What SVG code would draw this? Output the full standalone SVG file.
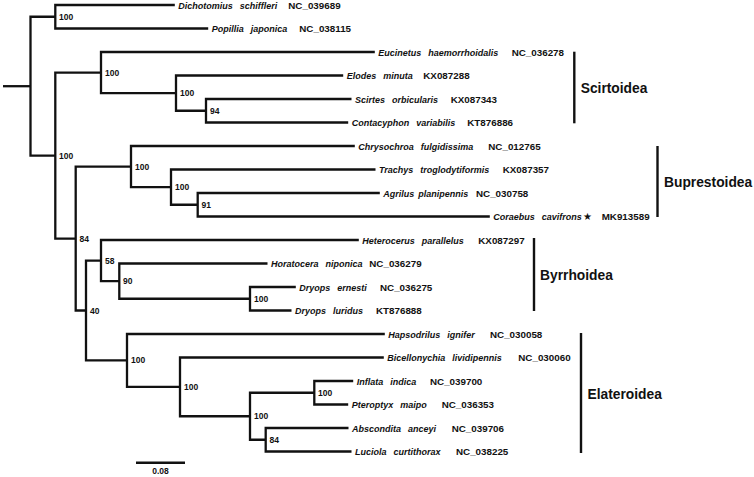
<svg xmlns="http://www.w3.org/2000/svg" width="754" height="477" viewBox="0 0 754 477">
<style>
.e{fill:none;stroke:#111;stroke-width:2.3;stroke-linejoin:miter}
.bar{stroke:#111;stroke-width:2.4}
.lf{font-family:"Liberation Sans",Arial,sans-serif;font-size:9.8px;font-weight:bold;fill:#111}
.sp{font-style:italic;font-size:9px}
.star{font-family:"DejaVu Sans",sans-serif;font-size:10px}
.bs{font-family:"Liberation Sans",Arial,sans-serif;font-size:8.5px;font-weight:bold;fill:#111}
.cl{font-family:"Liberation Sans",Arial,sans-serif;font-size:13.8px;font-weight:bold;fill:#111}
</style>
<rect width="754" height="477" fill="#fff"/>
<g id="connectors">
<path class="e" d="M3 86.2H30.5"/>
<path class="e" d="M30.5 86.2V16.75H55.3M30.5 86.2V155.6H55.3"/>
<path class="e" d="M55.3 16.75V5H174.8M55.3 16.75V28.5H208.2"/>
<path class="e" d="M55.3 155.6V72.6H101M55.3 155.6V238.6H75.7"/>
<path class="e" d="M101 72.6V52H374.8M101 72.6V93.1H176"/>
<path class="e" d="M176 93.1V75.5H343.2M176 93.1V110.75H206"/>
<path class="e" d="M206 110.75V99H351.5M206 110.75V122.5H348.2"/>
<path class="e" d="M75.7 238.6V166.6H131M75.7 238.6V310.5H86"/>
<path class="e" d="M131 166.6V146H354.8M131 166.6V187.1H171"/>
<path class="e" d="M171 187.1V169.5H375.5M171 187.1V204.75H197.7"/>
<path class="e" d="M197.7 204.75V193H379.8M197.7 204.75V216.5H489.8"/>
<path class="e" d="M86 310.5V260.6H101M86 310.5V360.4H127"/>
<path class="e" d="M101 260.6V240H358.8M101 260.6V281.1H119.3"/>
<path class="e" d="M119.3 281.1V263.5H267.5M119.3 281.1V298.75H250"/>
<path class="e" d="M250 298.75V287H295.8M250 298.75V310.5H291.5"/>
<path class="e" d="M127 360.4V334H384.8M127 360.4V386.9H180"/>
<path class="e" d="M180 386.9V357.5H383.8M180 386.9V416.25H250"/>
<path class="e" d="M250 416.25V392.75H314.3M250 416.25V439.75H265.7"/>
<path class="e" d="M314.3 392.75V381H353.2M314.3 392.75V404.5H348.2"/>
<path class="e" d="M265.7 439.75V428H348.5M265.7 439.75V451.5H351.5"/>
</g>
<g id="supports">
<text class="bs" x="59" y="19.8">100</text>
<text class="bs" x="59" y="158.6">100</text>
<text class="bs" x="79.5" y="241.6">84</text>
<text class="bs" x="90" y="313.5">40</text>
<text class="bs" x="105" y="75.6">100</text>
<text class="bs" x="180" y="96.1">100</text>
<text class="bs" x="210" y="113.8">94</text>
<text class="bs" x="135" y="169.6">100</text>
<text class="bs" x="175" y="190.1">100</text>
<text class="bs" x="201.5" y="207.8">91</text>
<text class="bs" x="105" y="263.6">58</text>
<text class="bs" x="123" y="284.1">90</text>
<text class="bs" x="254" y="301.8">100</text>
<text class="bs" x="131" y="363.4">100</text>
<text class="bs" x="184" y="389.9">100</text>
<text class="bs" x="254" y="419.3">100</text>
<text class="bs" x="318" y="395.8">100</text>
<text class="bs" x="269.5" y="442.8">84</text>
</g>
<g id="leaf1"><text class="lf" x="178.3" y="8.5"><tspan class="sp">Dichotomius</tspan><tspan class="sp" dx="7">schiffleri</tspan><tspan x="288.3">NC_039689</tspan></text></g>
<g id="leaf2"><text class="lf" x="211.7" y="32"><tspan class="sp">Popillia</tspan><tspan class="sp" dx="7">japonica</tspan><tspan x="299.3">NC_038115</tspan></text></g>
<g id="leaf3"><text class="lf" x="378.3" y="55.5"><tspan class="sp">Eucinetus</tspan><tspan class="sp" dx="7">haemorrhoidalis</tspan><tspan x="511.7">NC_036278</tspan></text></g>
<g id="leaf4"><text class="lf" x="346.7" y="79"><tspan class="sp">Elodes</tspan><tspan class="sp" dx="7">minuta</tspan><tspan x="423.3">KX087288</tspan></text></g>
<g id="leaf5"><text class="lf" x="355" y="102.5"><tspan class="sp">Scirtes</tspan><tspan class="sp" dx="7">orbicularis</tspan><tspan x="450.7">KX087343</tspan></text></g>
<g id="leaf6"><text class="lf" x="351.7" y="126"><tspan class="sp">Contacyphon</tspan><tspan class="sp" dx="7">variabilis</tspan><tspan x="467.3">KT876886</tspan></text></g>
<g id="leaf7"><text class="lf" x="358.3" y="149.5"><tspan class="sp">Chrysochroa</tspan><tspan class="sp" dx="7">fulgidissima</tspan><tspan x="488.3">NC_012765</tspan></text></g>
<g id="leaf8"><text class="lf" x="379" y="173"><tspan class="sp">Trachys</tspan><tspan class="sp" dx="7">troglodytiformis</tspan><tspan x="502.7">KX087357</tspan></text></g>
<g id="leaf9"><text class="lf" x="383.3" y="196.5"><tspan class="sp">Agrilus</tspan><tspan class="sp" dx="4">planipennis</tspan><tspan x="476">NC_030758</tspan></text></g>
<g id="leaf10"><text class="lf" x="493.3" y="220"><tspan class="sp">Coraebus</tspan><tspan class="sp" dx="7">cavifrons</tspan><tspan class="star" x="583">★</tspan><tspan x="601.7">MK913589</tspan></text></g>
<g id="leaf11"><text class="lf" x="362.3" y="243.5"><tspan class="sp">Heterocerus</tspan><tspan class="sp" dx="7">parallelus</tspan><tspan x="478.3">KX087297</tspan></text></g>
<g id="leaf12"><text class="lf" x="271" y="267"><tspan class="sp">Horatocera</tspan><tspan class="sp" dx="7">niponica</tspan><tspan x="369.3">NC_036279</tspan></text></g>
<g id="leaf13"><text class="lf" x="299.3" y="290.5"><tspan class="sp">Dryops</tspan><tspan class="sp" dx="7">ernesti</tspan><tspan x="380">NC_036275</tspan></text></g>
<g id="leaf14"><text class="lf" x="295" y="314"><tspan class="sp">Dryops</tspan><tspan class="sp" dx="7">luridus</tspan><tspan x="376">KT876888</tspan></text></g>
<g id="leaf15"><text class="lf" x="388.3" y="337.5"><tspan class="sp">Hapsodrilus</tspan><tspan class="sp" dx="7">ignifer</tspan><tspan x="490">NC_030058</tspan></text></g>
<g id="leaf16"><text class="lf" x="387.3" y="361"><tspan class="sp">Bicellonychia</tspan><tspan class="sp" dx="7">lividipennis</tspan><tspan x="518.3">NC_030060</tspan></text></g>
<g id="leaf17"><text class="lf" x="356.7" y="384.5"><tspan class="sp">Inflata</tspan><tspan class="sp" dx="7">indica</tspan><tspan x="430">NC_039700</tspan></text></g>
<g id="leaf18"><text class="lf" x="351.7" y="408"><tspan class="sp">Pteroptyx</tspan><tspan class="sp" dx="7">maipo</tspan><tspan x="441.7">NC_036353</tspan></text></g>
<g id="leaf19"><text class="lf" x="352" y="431.5"><tspan class="sp">Abscondita</tspan><tspan class="sp" dx="7">anceyi</tspan><tspan x="451.7">NC_039706</tspan></text></g>
<g id="leaf20"><text class="lf" x="355" y="455"><tspan class="sp">Luciola</tspan><tspan class="sp" dx="7">curtithorax</tspan><tspan x="456">NC_038225</tspan></text></g>
<g id="clade-scirtoidea"><line class="bar" x1="574.3" y1="51.7" x2="574.3" y2="123.3"/><text class="cl" x="580.7" y="92.7">Scirtoidea</text></g>
<g id="clade-buprestoidea"><line class="bar" x1="657.5" y1="146" x2="657.5" y2="217"/><text class="cl" x="664" y="186.7">Buprestoidea</text></g>
<g id="clade-byrrhoidea"><line class="bar" x1="534" y1="238" x2="534" y2="311"/><text class="cl" x="540" y="280">Byrrhoidea</text></g>
<g id="clade-elateroidea"><line class="bar" x1="581" y1="333" x2="581" y2="453"/><text class="cl" x="587.5" y="399">Elateroidea</text></g>
<g id="scalebar"><line class="bar" x1="136" y1="462.7" x2="185" y2="462.7"/><text class="bs" x="160.5" y="474" text-anchor="middle">0.08</text></g>
</svg>
